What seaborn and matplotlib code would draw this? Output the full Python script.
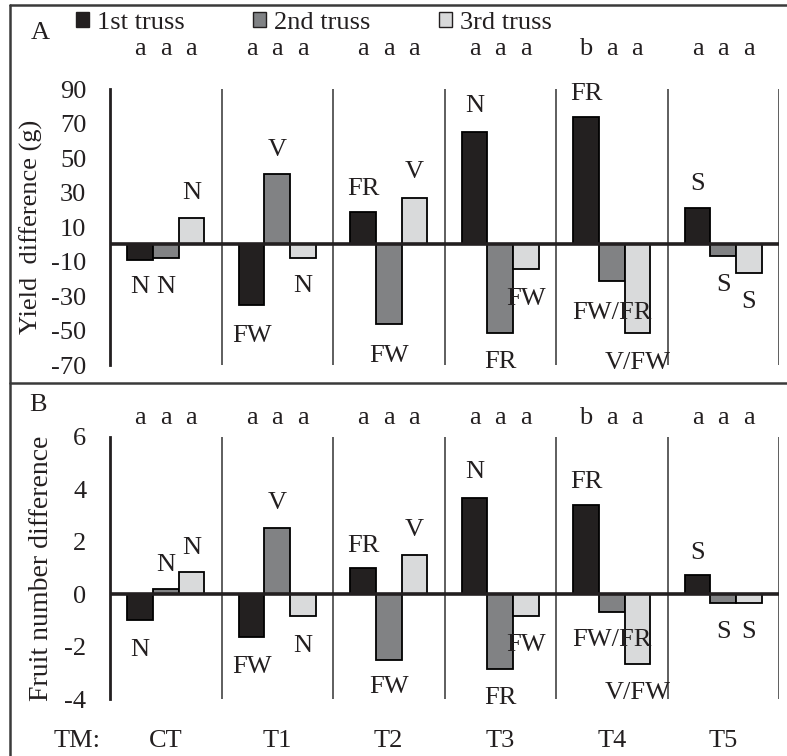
import matplotlib
matplotlib.use('Agg')
import matplotlib.pyplot as plt
import seaborn as sns
import pandas as pd
from matplotlib.patches import Patch
from matplotlib.lines import Line2D

# ---------------- data ----------------
treatments = ['CT', 'T1', 'T2', 'T3', 'T4', 'T5']
trusses = ['1st truss', '2nd truss', '3rd truss']

yield_1st = [-9, -35, 19, 65.5, 74, 21]
yield_2nd = [-8, 41, -46, -51.5, -21.5, -6.5]
yield_3rd = [15.5, -8, 26.7, -14.3, -51.5, -16.6]

fruit_1st = [-1.0, -1.65, 1.0, 3.67, 3.4, 0.72]
fruit_2nd = [0.18, 2.53, -2.5, -2.86, -0.7, -0.33]
fruit_3rd = [0.85, -0.85, 1.5, -0.85, -2.65, -0.33]

sig_1st = ['a', 'a', 'a', 'a', 'b', 'a']
sig_2nd = ['a', 'a', 'a', 'a', 'a', 'a']
sig_3rd = ['a', 'a', 'a', 'a', 'a', 'a']

lab_1st = ['N', 'FW', 'FR', 'N', 'FR', 'S']
lab_2nd = ['N', 'V', 'FW', 'FR', 'FW/FR', 'S']
lab_3rd = ['N', 'N', 'V', 'FW', 'V/FW', 'S']

yticks_A = [-70, -50, -30, -10, 10, 30, 50, 70, 90]
yticks_B = [-4, -2, 0, 2, 4, 6]

# label positions (layout)
lpos_A = [[-25, -53, 32, 80.5, 87.5, 35],
          [-25, 55, -64.5, -68, -40, -23.5],
          [30, -24, 42, -31.5, -69, -33.5]]
lpos_B = [[-2.15, -2.78, 1.85, 4.65, 4.27, 1.58],
          [1.12, 3.49, -3.56, -3.95, -1.75, -1.45],
          [1.77, -1.98, 2.46, -1.94, -3.79, -1.45]]

colors = ['#231f20', '#808285', '#d9dadb']

sns.set_theme(style='white')
plt.rcParams['font.family'] = ['Liberation Serif', 'DejaVu Serif']
plt.rcParams['axes.unicode_minus'] = False

FS = 19
TC = '#231f20'

def long_df(a, b, c):
    rows = []
    for vals, t in zip([a, b, c], trusses):
        for tm, v in zip(treatments, vals):
            rows.append({'TM': tm, 'truss': t, 'value': v})
    return pd.DataFrame(rows)

df_A = long_df(yield_1st, yield_2nd, yield_3rd)
df_B = long_df(fruit_1st, fruit_2nd, fruit_3rd)

W, H = 787, 756
fig = plt.figure(figsize=(W / 100, H / 100), dpi=100)

def fx(px):
    return px / W

def fy(py):
    return 1 - py / H

axA = fig.add_axes([fx(110), fy(365), fx(779) - fx(110), fy(89.3) - fy(365)])
axB = fig.add_axes([fx(110), fy(699), fx(779) - fx(110), fy(436.7) - fy(699)])

BW = 0.23
sigs = [sig_1st, sig_2nd, sig_3rd]
labs = [lab_1st, lab_2nd, lab_3rd]

def draw(ax, df, ylim, yticks, lpos, sig_y):
    sns.barplot(data=df, x='TM', y='value', hue='truss', hue_order=trusses,
                order=treatments, palette=colors, width=3 * BW, gap=0,
                edgecolor='black', linewidth=1.3, errorbar=None,
                legend=False, ax=ax, zorder=2)
    ax.set_xlim(-0.5, 5.5)
    ax.set_ylim(*ylim)
    ax.set_xticks([])
    ax.set_xlabel('')
    ax.set_ylabel('')
    ax.set_yticks(yticks)
    ax.set_yticklabels([str(t) for t in yticks], fontsize=FS)
    for s in ['top', 'right', 'bottom']:
        ax.spines[s].set_visible(False)
    ax.spines['left'].set_linewidth(2)
    ax.spines['left'].set_color(TC)
    ax.tick_params(axis='y', direction='in', length=6, width=2,
                   pad=17, colors=TC, labelcolor=TC)
    ax.axhline(0, color=TC, lw=2.6, zorder=3)
    for k in range(6):
        ax.axvline(k + 0.5, color='#333333', lw=1.1, zorder=1)
    ax.set_facecolor('none')
    for j in range(3):
        for i in range(6):
            x = i + (j - 1) * BW
            ax.text(x, lpos[j][i], labs[j][i], ha='center', va='center',
                    fontsize=FS, color=TC, clip_on=False, zorder=4)
            ax.text(x, sig_y, sigs[j][i], ha='center', va='center',
                    fontsize=FS, color=TC, clip_on=False)

draw(axA, df_A, (-70, 90), yticks_A, lpos_A, 113.4)
draw(axB, df_B, (-4, 6), yticks_B, lpos_B, 6.71)

# y labels
fig.text(fx(31), fy(227), 'Yield  difference (g)', rotation=90,
         ha='center', va='center', fontsize=19, color=TC)
fig.text(fx(42), fy(568), 'Fruit number difference', rotation=90,
         ha='center', va='center', fontsize=20, color=TC)

# panel letters
fig.text(fx(40), fy(33), 'A', ha='center', va='center', fontsize=FS, color=TC)
fig.text(fx(38), fy(405), 'B', ha='center', va='center', fontsize=FS, color=TC)

# bottom category labels
fig.text(fx(77), fy(741), 'TM:', ha='center', va='center', fontsize=FS, color=TC)
for i, tm in enumerate(treatments):
    axB.text(i, -5.6, tm, ha='center', va='center', fontsize=FS,
             color=TC, clip_on=False)

# legend
handles = [Patch(facecolor=c, edgecolor=TC, linewidth=1) for c in colors]
fig.legend(handles, trusses, loc='center', bbox_to_anchor=(fx(314), fy(23)),
           ncol=3, frameon=False, fontsize=FS, handlelength=0.5,
           handleheight=0.5, handletextpad=0.3, columnspacing=2.6,
           borderaxespad=0, labelcolor=TC)

# frame lines
lc = '#3a3a3a'
fig.add_artist(Line2D([fx(10), fx(10)], [fy(5), 0], color=lc, lw=1.8))
fig.add_artist(Line2D([fx(10), 1], [fy(5), fy(5)], color=lc, lw=1.8))
fig.add_artist(Line2D([fx(10), 1], [fy(383), fy(383)], color=lc, lw=1.8))

fig.savefig('out.png', dpi=100)
